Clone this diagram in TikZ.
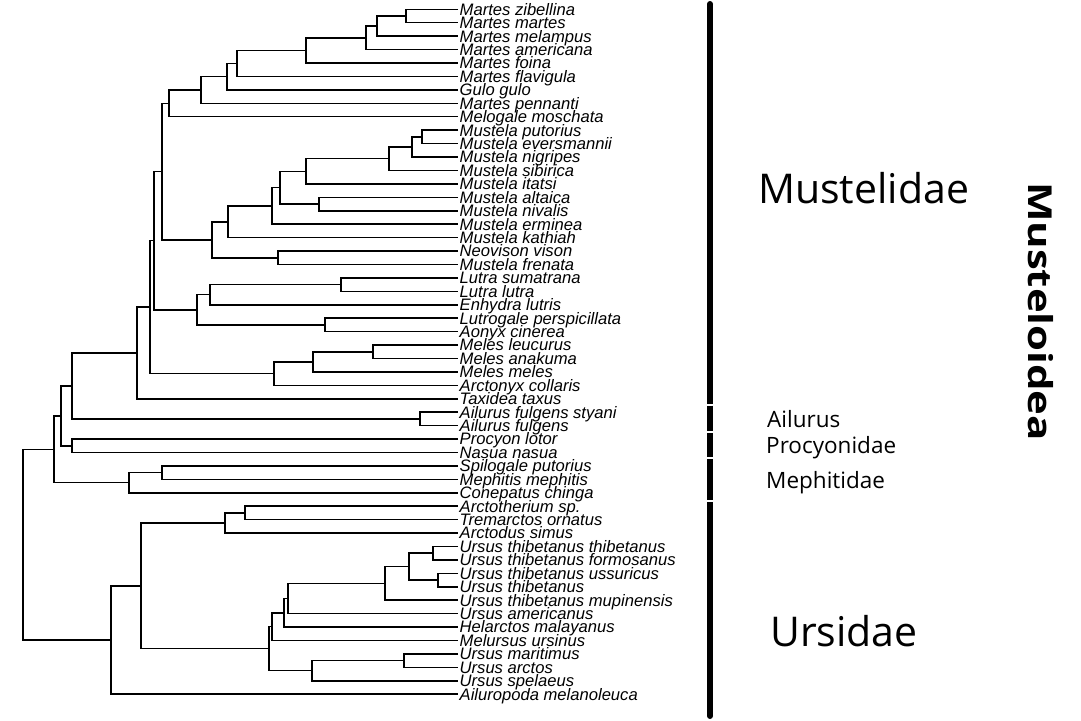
\documentclass[tikz,border=0pt]{standalone}
\usepackage{fontspec}
\usepackage{tikz}
\usetikzlibrary{positioning}
\newfontfamily\arialfont{Liberation Sans}
\newfontfamily\segoefont{Open Sans}
\tikzstyle{branch} = [line width=1.5pt, black, line join=miter]
\tikzstyle{leaf} = [anchor=west, inner xsep=1.5pt, inner ysep=0pt, text height=11.7pt, text depth=0pt, font=\arialfont\itshape\fontsize{16.6}{18}\selectfont]
\tikzstyle{family} = [anchor=base west, inner sep=0pt, font=\segoefont\fontsize{41}{44}\selectfont]
\tikzstyle{clade} = [anchor=base west, inner sep=0pt, font=\segoefont\fontsize{22.5}{24}\selectfont]
\tikzstyle{bar} = [line width=6pt, black]
\def\dy{13.43}

\begin{document}
\begin{tikzpicture}[x=1pt, y=-1pt]
\useasboundingbox (0,0) rectangle (1081,720);

\begin{scope}[y=-\dy pt, yshift=4.13pt]
% tips
\node (l1) [leaf] at (458,1) {Martes zibellina};
\node (l2) [leaf] at (458,2) {Martes martes};
\node (l3) [leaf] at (458,3) {Martes melampus};
\node (l4) [leaf] at (458,4) {Martes americana};
\node (l5) [leaf] at (458,5) {Martes foina};
\node (l6) [leaf] at (458,6) {Martes flavigula};
\node (l7) [leaf] at (458,7) {Gulo gulo};
\node (l8) [leaf] at (458,8) {Martes pennanti};
\node (l9) [leaf] at (458,9) {Melogale moschata};
\node (l10) [leaf] at (458,10) {Mustela putorius};
\node (l11) [leaf] at (458,11) {Mustela eversmannii};
\node (l12) [leaf] at (458,12) {Mustela nigripes};
\node (l13) [leaf] at (458,13) {Mustela sibirica};
\node (l14) [leaf] at (458,14) {Mustela itatsi};
\node (l15) [leaf] at (458,15) {Mustela altaica};
\node (l16) [leaf] at (458,16) {Mustela nivalis};
\node (l17) [leaf] at (458,17) {Mustela erminea};
\node (l18) [leaf] at (458,18) {Mustela kathiah};
\node (l19) [leaf] at (458,19) {Neovison vison};
\node (l20) [leaf] at (458,20) {Mustela frenata};
\node (l21) [leaf] at (458,21) {Lutra sumatrana};
\node (l22) [leaf] at (458,22) {Lutra lutra};
\node (l23) [leaf] at (458,23) {Enhydra lutris};
\node (l24) [leaf] at (458,24) {Lutrogale perspicillata};
\node (l25) [leaf] at (458,25) {Aonyx cinerea};
\node (l26) [leaf] at (458,26) {Meles leucurus};
\node (l27) [leaf] at (458,27) {Meles anakuma};
\node (l28) [leaf] at (458,28) {Meles meles};
\node (l29) [leaf] at (458,29) {Arctonyx collaris};
\node (l30) [leaf] at (458,30) {Taxidea taxus};
\node (l31) [leaf] at (458,31) {Ailurus fulgens styani};
\node (l32) [leaf] at (458,32) {Ailurus fulgens};
\node (l33) [leaf] at (458,33) {Procyon lotor};
\node (l34) [leaf] at (458,34) {Nasua nasua};
\node (l35) [leaf] at (458,35) {Spilogale putorius};
\node (l36) [leaf] at (458,36) {Mephitis mephitis};
\node (l37) [leaf] at (458,37) {Conepatus chinga};
\node (l38) [leaf] at (458,38) {Arctotherium sp.};
\node (l39) [leaf] at (458,39) {Tremarctos ornatus};
\node (l40) [leaf] at (458,40) {Arctodus simus};
\node (l41) [leaf] at (458,41) {Ursus thibetanus thibetanus};
\node (l42) [leaf] at (458,42) {Ursus thibetanus formosanus};
\node (l43) [leaf] at (458,43) {Ursus thibetanus ussuricus};
\node (l44) [leaf] at (458,44) {Ursus thibetanus};
\node (l45) [leaf] at (458,45) {Ursus thibetanus mupinensis};
\node (l46) [leaf] at (458,46) {Ursus americanus};
\node (l47) [leaf] at (458,47) {Helarctos malayanus};
\node (l48) [leaf] at (458,48) {Melursus ursinus};
\node (l49) [leaf] at (458,49) {Ursus maritimus};
\node (l50) [leaf] at (458,50) {Ursus arctos};
\node (l51) [leaf] at (458,51) {Ursus spelaeus};
\node (l52) [leaf] at (458,52) {Ailuropoda melanoleuca};

% Martes
\coordinate (mart1) at (406,1.5);
\coordinate (mart2) at (377,2.25);
\coordinate (mart3) at (366,3.125);
\coordinate (mart4) at (306,4.0625);
\coordinate (mart5) at (237,5.031);
\coordinate (mart6) at (227,6.016);
\coordinate (mart7) at (201,7.008);
\coordinate (mart8) at (169,8.004);
% Mustela
\coordinate (must1) at (422,10.5);
\coordinate (must2) at (412,11.25);
\coordinate (must3) at (389,12.125);
\coordinate (must4) at (306,13.0625);
\coordinate (must5) at (319,15.5);
\coordinate (must6) at (280,14.281);
\coordinate (must7) at (272,15.641);
\coordinate (must8) at (228,16.820);
\coordinate (must9) at (278,19.5);
\coordinate (must10) at (212,18.160);
% otters, badgers
\coordinate (lutr1) at (341,21.5);
\coordinate (lutr2) at (210,22.25);
\coordinate (lutr3) at (325,24.5);
\coordinate (lutr4) at (197,23.375);
\coordinate (mele1) at (373,26.5);
\coordinate (mele2) at (313,27.25);
\coordinate (mele3) at (274,28.125);
% backbone
\coordinate (mst1) at (162,13.082);
\coordinate (mst2) at (154,18.229);
\coordinate (mst3) at (150,23.177);
\coordinate (mst4) at (137,26.588);
\coordinate (ailu) at (420,31.5);
\coordinate (proc) at (72,33.5);
\coordinate (meph1) at (162,35.5);
\coordinate (meph2) at (129,36.25);
\coordinate (musto1) at (72,29.044);
\coordinate (musto2) at (61,31.272);
\coordinate (musto3) at (54,33.761);
% Ursidae
\coordinate (urs1) at (245,38.5);
\coordinate (urs2) at (225,39.25);
\coordinate (urs3) at (433,41.5);
\coordinate (urs4) at (438,43.5);
\coordinate (urs5) at (409,42.5);
\coordinate (urs6) at (385,43.75);
\coordinate (urs7) at (288,44.875);
\coordinate (urs8) at (284,45.9375);
\coordinate (urs9) at (272,46.969);
\coordinate (urs10) at (404,49.5);
\coordinate (urs11) at (312,50.25);
\coordinate (urs12) at (269,48.609);
\coordinate (urs13) at (141,43.930);
\coordinate (urs14) at (111,47.965);
\coordinate (root) at (23,40.863);

\draw [branch] (l1.west) -| (mart1) |- (l2.west);
\draw [branch] (mart1) -| (mart2) |- (l3.west);
\draw [branch] (mart2) -| (mart3) |- (l4.west);
\draw [branch] (mart3) -| (mart4) |- (l5.west);
\draw [branch] (mart4) -| (mart5) |- (l6.west);
\draw [branch] (mart5) -| (mart6) |- (l7.west);
\draw [branch] (mart6) -| (mart7) |- (l8.west);
\draw [branch] (mart7) -| (mart8) |- (l9.west);

\draw [branch] (l10.west) -| (must1) |- (l11.west);
\draw [branch] (must1) -| (must2) |- (l12.west);
\draw [branch] (must2) -| (must3) |- (l13.west);
\draw [branch] (must3) -| (must4) |- (l14.west);
\draw [branch] (l15.west) -| (must5) |- (l16.west);
\draw [branch] (must4) -| (must6) |- (must5);
\draw [branch] (must6) -| (must7) |- (l17.west);
\draw [branch] (must7) -| (must8) |- (l18.west);
\draw [branch] (l19.west) -| (must9) |- (l20.west);
\draw [branch] (must8) -| (must10) |- (must9);

\draw [branch] (l21.west) -| (lutr1) |- (l22.west);
\draw [branch] (lutr1) -| (lutr2) |- (l23.west);
\draw [branch] (l24.west) -| (lutr3) |- (l25.west);
\draw [branch] (lutr2) -| (lutr4) |- (lutr3);

\draw [branch] (l26.west) -| (mele1) |- (l27.west);
\draw [branch] (mele1) -| (mele2) |- (l28.west);
\draw [branch] (mele2) -| (mele3) |- (l29.west);

\draw [branch] (mart8) -| (mst1) |- (must10);
\draw [branch] (mst1) -| (mst2) |- (lutr4);
\draw [branch] (mst2) -| (mst3) |- (mele3);
\draw [branch] (mst3) -| (mst4) |- (l30.west);

\draw [branch] (l31.west) -| (ailu) |- (l32.west);
\draw [branch] (l33.west) -| (proc) |- (l34.west);
\draw [branch] (l35.west) -| (meph1) |- (l36.west);
\draw [branch] (meph1) -| (meph2) |- (l37.west);
\draw [branch] (mst4) -| (musto1) |- (ailu);
\draw [branch] (musto1) -| (musto2) |- (proc);
\draw [branch] (musto2) -| (musto3) |- (meph2);

\draw [branch] (l38.west) -| (urs1) |- (l39.west);
\draw [branch] (urs1) -| (urs2) |- (l40.west);
\draw [branch] (l41.west) -| (urs3) |- (l42.west);
\draw [branch] (l43.west) -| (urs4) |- (l44.west);
\draw [branch] (urs3) -| (urs5) |- (urs4);
\draw [branch] (urs5) -| (urs6) |- (l45.west);
\draw [branch] (urs6) -| (urs7) |- (l46.west);
\draw [branch] (urs7) -| (urs8) |- (l47.west);
\draw [branch] (urs8) -| (urs9) |- (l48.west);
\draw [branch] (l49.west) -| (urs10) |- (l50.west);
\draw [branch] (urs10) -| (urs11) |- (l51.west);
\draw [branch] (urs9) -| (urs12) |- (urs11);
\draw [branch] (urs2) -| (urs13) |- (urs12);
\draw [branch] (urs13) -| (urs14) |- (l52.west);

\draw [branch] (musto3) -| (root) |- (urs14);
\end{scope}

% clade bar
\draw [bar] (710,4) -- (710,403.5);
\draw [bar] (710,405.5) -- (710,431);
\draw [bar] (710,433) -- (710,457);
\draw [bar] (710,459) -- (710,500);
\draw [bar] (710,502) -- (710,716);
\fill (710,4) circle (3pt);
\fill (710,716) circle (3pt);

\node (mustelidae) [family] at (758,203) {Mustelidae};
\node (ursidae) [family] at (770,646) {Ursidae};
\node (ailurus) [clade] at (767,427) {Ailurus};
\node (procyonidae) [clade] at (766,453.5) {Procyonidae};
\node (mephitidae) [clade] at (766,488) {Mephitidae};
\node (musteloidea) [anchor=base, inner sep=0pt, rotate=-90, xscale=1.27, font=\segoefont\bfseries\fontsize{33}{36}\selectfont] at (1028,311.5) {Musteloidea};
\end{tikzpicture}
\end{document}
